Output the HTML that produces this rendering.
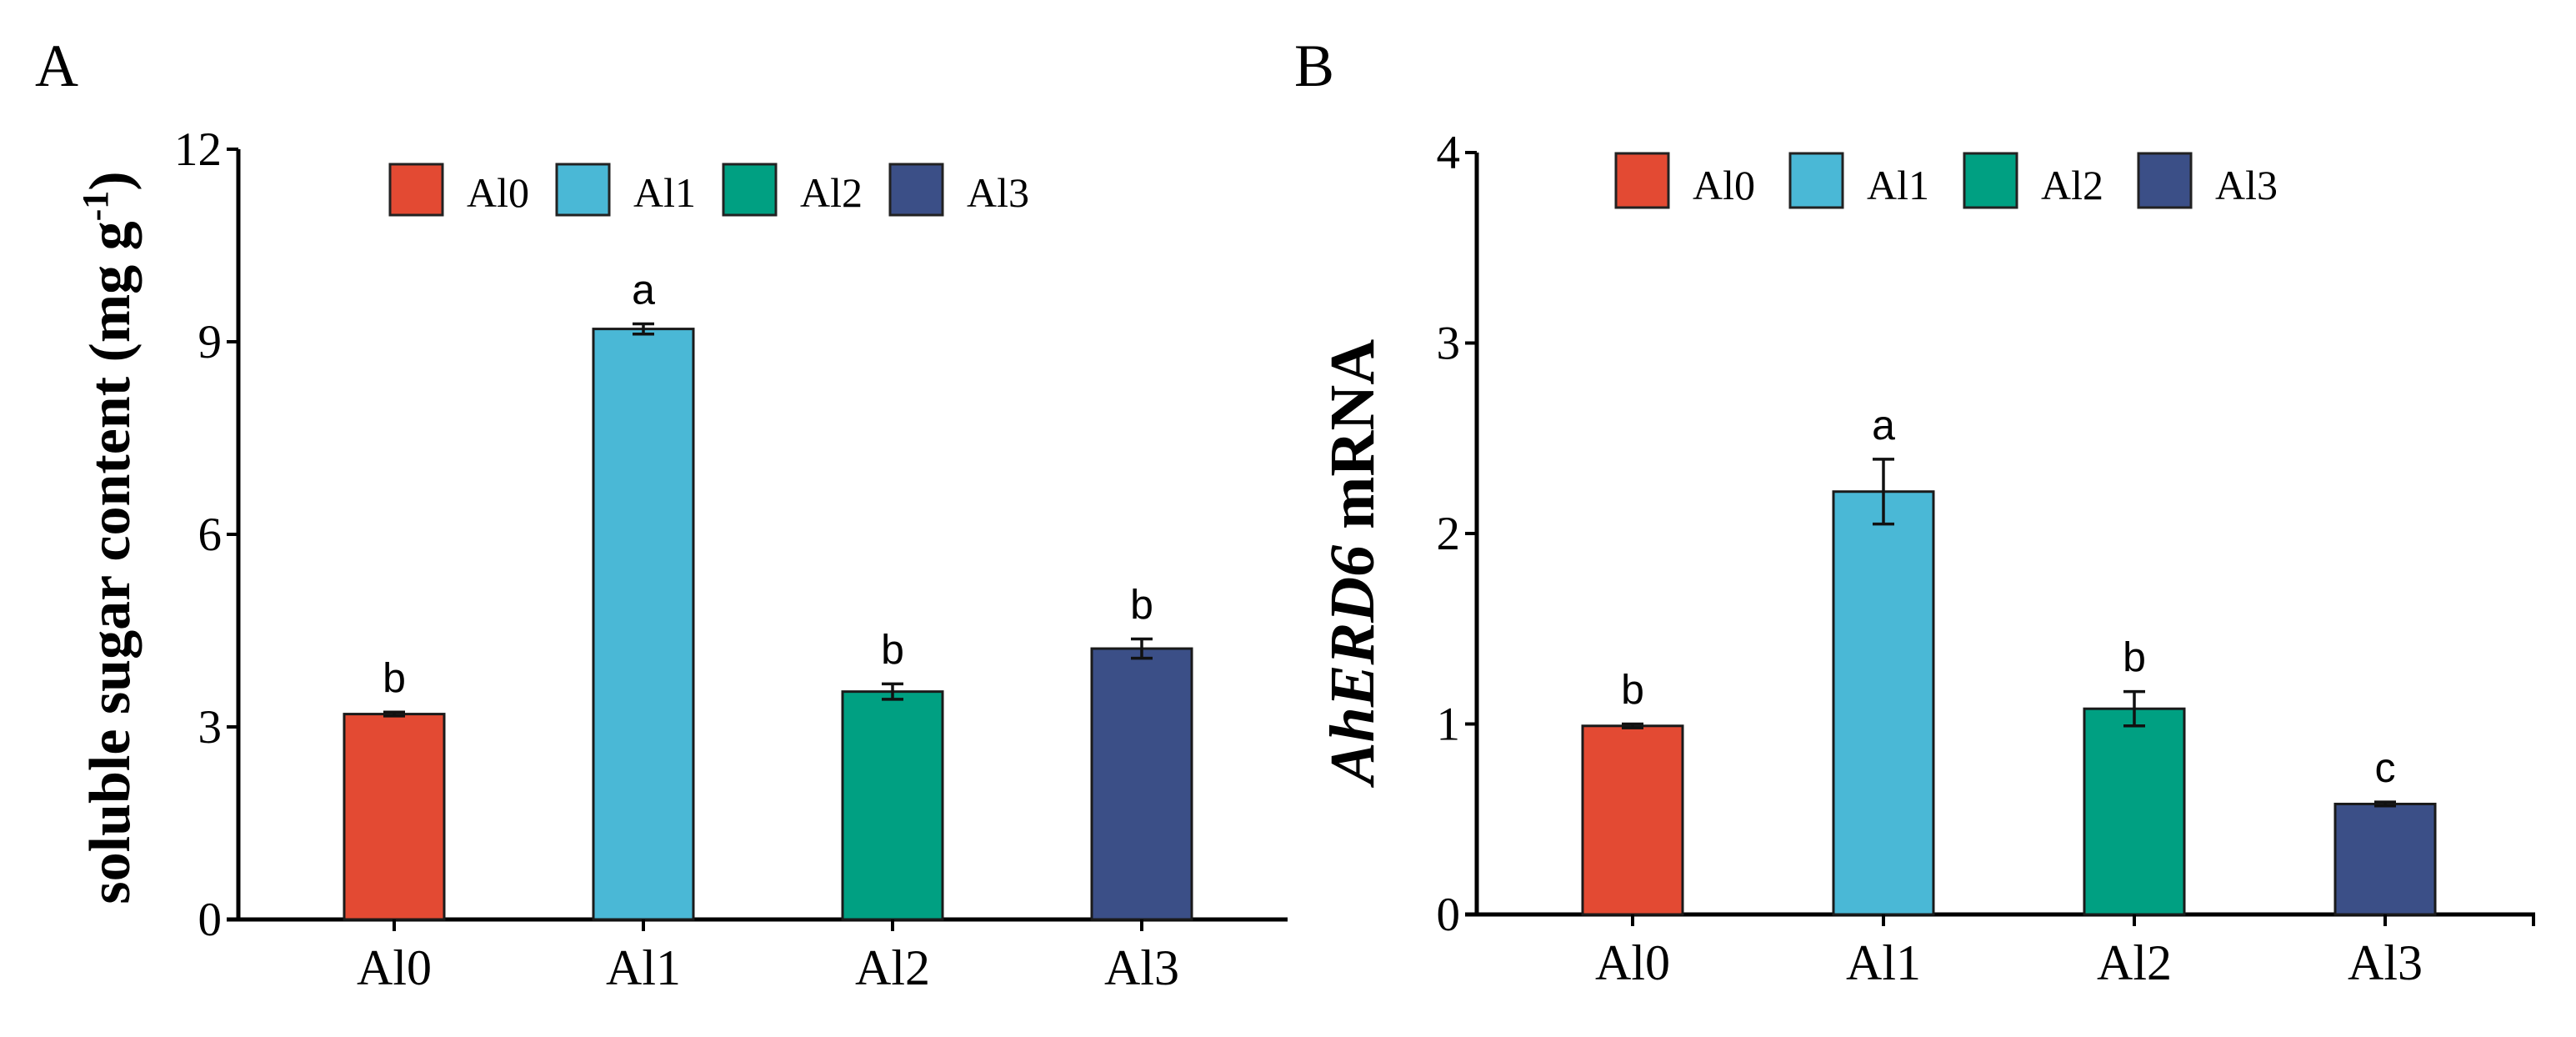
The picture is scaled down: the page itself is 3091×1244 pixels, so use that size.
<!DOCTYPE html>
<html><head><meta charset="utf-8"><style>
html,body{margin:0;padding:0;background:#fff}
svg{display:block}
</style></head><body>
<svg id="fig" width="3091" height="1244" viewBox="0 0 3091 1244" xmlns="http://www.w3.org/2000/svg">
<text x="42" y="103" font-family="Liberation Serif, serif" font-size="72">A</text>
<text x="1553" y="103" font-family="Liberation Serif, serif" font-size="72">B</text>
<text transform="translate(155,645) rotate(-90)" text-anchor="middle" font-family="Liberation Serif, serif" font-weight="bold" font-size="70">soluble sugar content (mg g<tspan dy="-26" font-size="44">-1</tspan><tspan dy="26">)</tspan></text>
<text transform="translate(1648,674) rotate(-90)" text-anchor="middle" font-family="Liberation Serif, serif" font-weight="bold" font-size="76"><tspan font-style="italic">AhERD6</tspan> mRNA</text>
<g id="pa"></g>
<g id="pb"></g>
</svg>
<script>
const categories = ["Al0","Al1","Al2","Al3"];
const colors = ["#e34a33","#4ab8d6","#00a082","#3b4f87"];
const sugarValues = [3.2, 9.2, 3.55, 4.22];
const sugarErrors = [0.03, 0.08, 0.12, 0.15];
const sugarLetters = ["b","a","b","b"];
const sugarTicks = [0,3,6,9,12];
const mrnaValues = [0.99, 2.22, 1.08, 0.58];
const mrnaErrors = [0.01, 0.17, 0.09, 0.01];
const mrnaLetters = ["b","a","b","c"];
const mrnaTicks = [0,1,2,3,4];

const NS = "http://www.w3.org/2000/svg";
function mk(parent, tag, attrs, text){
  const e = document.createElementNS(NS, tag);
  for (const k in attrs) e.setAttribute(k, attrs[k]);
  if (text !== undefined) e.textContent = text;
  parent.appendChild(e);
  return e;
}
function drawChart(g, cfg, values, errors, letters, ticks){
  const yMax = ticks[ticks.length-1];
  const y = v => cfg.y0 - (v / yMax) * (cfg.y0 - cfg.yTop);
  const x = i => cfg.c0 + i * cfg.step;
  const ya = mk(g,'line',{x1:cfg.ax,y1:cfg.yTop,x2:cfg.ax,y2:cfg.y0+2,stroke:'#000','stroke-width':5});
  
  
  const xa = mk(g,'line',{x1:cfg.ax-14,y1:cfg.y0,x2:cfg.xEnd,y2:cfg.y0,stroke:'#000','stroke-width':5});
  
  
  if (cfg.endTick){ mk(g,'line',{x1:cfg.xEnd-2,y1:cfg.y0,x2:cfg.xEnd-2,y2:cfg.y0+14,stroke:'#000','stroke-width':4}); }
  ticks.forEach(t => {
    mk(g,'line',{x1:cfg.ax-14,y1:y(t),x2:cfg.ax,y2:y(t),stroke:'#000','stroke-width':4});
    const tl = mk(g,'text',{x:cfg.ax-20,y:y(t)+19,'text-anchor':'end','font-family':'Liberation Serif, serif','font-size':57},String(t));
    
    
  });
  values.forEach((v,i) => {
    const cx = x(i), w = 120;
    const b = mk(g,'rect',{x:cx-w/2,y:y(v),width:w,height:cfg.y0-y(v),fill:colors[i],stroke:'#1a1a1a','stroke-width':3});
    
    
    const eh = y(v+errors[i]), el = y(v-errors[i]);
    const eb = mk(g,'path',{d:`M${cx},${eh}V${el}M${cx-13},${eh}H${cx+13}M${cx-13},${el}H${cx+13}`,stroke:'#111','stroke-width':3.5,fill:'none'});
    
    
    const lt = mk(g,'text',{x:cx,y:eh-24,'text-anchor':'middle','font-family':'Liberation Sans, sans-serif','font-size':50},letters[i]);
    
    
    mk(g,'line',{x1:cx,y1:cfg.y0,x2:cx,y2:cfg.y0+14,stroke:'#000','stroke-width':4});
    const xl = mk(g,'text',{x:cx,y:cfg.y0+78,'text-anchor':'middle','font-family':'Liberation Serif, serif','font-size':60},categories[i]);
    
    
    const lx = cfg.legX + i*cfg.legStep;
    const lb = mk(g,'rect',{x:lx,y:cfg.legY,width:63,height:cfg.legH,fill:colors[i],stroke:'#222','stroke-width':3});
    
    
    const lt2 = mk(g,'text',{x:lx+92,y:cfg.legY+cfg.legH-10,'font-family':'Liberation Serif, serif','font-size':50},categories[i]);
    
    
  });
}
drawChart(document.getElementById('pa'),
  {ax:286,y0:1103,yTop:179,c0:473,step:299,xEnd:1545,endTick:false,legX:468,legY:197,legH:61,legStep:200},
  sugarValues,sugarErrors,sugarLetters,sugarTicks);
drawChart(document.getElementById('pb'),
  {ax:1772,y0:1097,yTop:183,c0:1959,step:301,xEnd:3042,endTick:true,legX:1939,legY:184,legH:65,legStep:209},
  mrnaValues,mrnaErrors,mrnaLetters,mrnaTicks);
</script>
</body></html>
